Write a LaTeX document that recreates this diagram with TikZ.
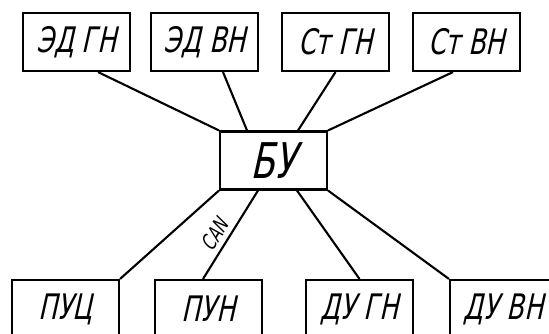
\documentclass[tikz,border=0pt]{standalone}
\usepackage{fontspec}
\newfontfamily\gostfont[FakeSlant=0.22, FakeStretch=0.72]{DejaVu Sans}

\begin{document}
\begin{tikzpicture}[line width=1.2pt,
    every node/.style={font=\gostfont\fontsize{20}{22}\selectfont},
    unit/.style={draw, minimum width=2.14cm, minimum height=1.16cm, inner sep=0pt}]
  \useasboundingbox (0,0) rectangle (10.98,-6.68);
  \clip (0,0) rectangle (10.98,-6.68);
  % top row
  \node[unit] (edgn) at (1.53,-0.84) {ЭД ГН};
  \node[unit] (edvn) at (4.09,-0.84) {ЭД ВН};
  \node[unit] (stgn) at (6.71,-0.84) {Ст ГН};
  \node[unit] (stvn) at (9.33,-0.84) {Ст ВН};
  % control unit
  \node[unit, font=\gostfont\fontsize{28}{30}\selectfont] (bu) at (5.47,-3.21) {БУ};
  % bottom row
  \node[unit] (puc) at (1.31,-6.18) {ПУЦ};
  \node[unit] (pun) at (4.17,-6.18) {ПУН};
  \node[unit] (dugn) at (7.19,-6.18) {ДУ ГН};
  \node[unit] (duvn) at (10.07,-6.18) {ДУ ВН};
  \draw ([xshift=0.43cm]edgn.south) -- (bu.north west);
  \draw ([xshift=0.37cm]edvn.south) -- ([xshift=-0.53cm]bu.north);
  \draw (stgn.south) -- ([xshift=0.49cm]bu.north);
  \draw ([xshift=-0.27cm]stvn.south) -- (bu.north east);
  \draw (bu.south west) -- (puc.north east);
  \draw ([xshift=-0.31cm]bu.south) -- node[pos=0.58, sloped, above, inner sep=2.5pt,
    font=\gostfont\fontsize{12}{13}\selectfont] (can) {CAN} ([xshift=-0.11cm]pun.north);
  \draw ([xshift=0.47cm]bu.south) -- (dugn.north);
  \draw (bu.south east) -- (duvn.north west);
\end{tikzpicture}
\end{document}
